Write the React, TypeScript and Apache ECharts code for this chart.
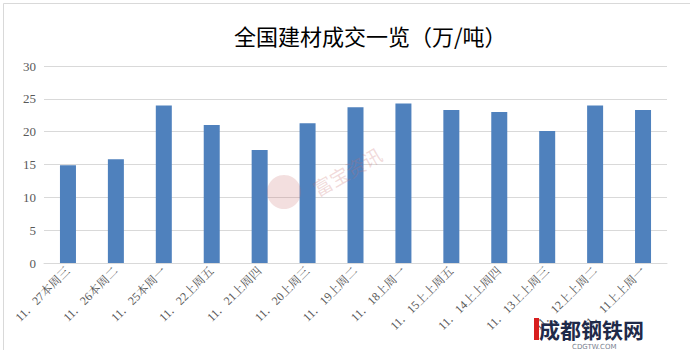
import React, { useEffect, useRef } from "react";
import * as echarts from "echarts";

const categories = [
  "11．27本周三", "11．26本周二", "11．25本周一", "11．22上周五", "11．21上周四",
  "11．20上周三", "11．19上周二", "11．18上周一", "11．15上上周五", "11．14上上周四",
  "11．13上上周三", "11．12上上周二", "11．11上上周一",
];
const values = [14.9, 15.8, 24.0, 21.0, 17.2, 21.3, 23.7, 24.3, 23.3, 23.0, 20.1, 24.0, 23.3];
const yTicks = [0, 5, 10, 15, 20, 25, 30];

export default function App() {
  const ref = useRef<HTMLDivElement>(null);
  useEffect(() => {
    if (!ref.current) return;
    const chart = echarts.init(ref.current, null, { renderer: "svg" });
    const labelFont = "'Liberation Serif', 'Noto Serif CJK SC', 'Noto Sans CJK SC', serif";
    chart.setOption({
      animation: false,
      backgroundColor: "#ffffff",
      title: {
        text: "全国建材成交一览（万/吨）",
        left: 229,
        top: 19,
        textStyle: {
          fontFamily: "'Noto Sans CJK SC', sans-serif",
          fontSize: 22,
          fontWeight: "normal",
          color: "#000000",
        },
      },
      grid: { left: 44, right: 23, top: 66, bottom: 87, containLabel: false },
      xAxis: {
        type: "category",
        data: categories,
        axisLine: { lineStyle: { color: "#d9d9d9" } },
        axisTick: { show: false },
        axisLabel: {
          rotate: 45,
          interval: 0,
          color: "#595959",
          fontSize: 12,
          fontFamily: labelFont,
          margin: 6,
        },
      },
      yAxis: {
        type: "value",
        min: yTicks[0],
        max: yTicks[yTicks.length - 1],
        interval: 5,
        axisLine: { show: false },
        axisTick: { show: false },
        splitLine: { lineStyle: { color: "#d9d9d9" } },
        axisLabel: {
          color: "#595959",
          fontSize: 13,
          fontFamily: labelFont,
          margin: 8,
        },
      },
      series: [
        {
          type: "bar",
          data: values,
          barWidth: 16,
          itemStyle: { color: "#4f81bd" },
        },
      ],
      graphic: [
        {
          type: "rect",
          left: 1,
          top: 1,
          shape: { width: 687, height: 347 },
          style: { fill: "none", stroke: "#d9d9d9", lineWidth: 1 },
          silent: true,
        },
        {
          type: "circle",
          shape: { cx: 284, cy: 192, r: 17 },
          style: { fill: "rgba(200,110,110,0.22)" },
          silent: true,
          z: 100,
        },
        {
          type: "text",
          x: 314,
          y: 190,
          rotation: Math.PI / 6,
          style: {
            text: "富宝资讯",
            fontSize: 19,
            fontFamily: "'Noto Sans CJK SC', sans-serif",
            fill: "rgba(200,110,110,0.25)",
            verticalAlign: "middle",
          },
          silent: true,
          z: 100,
        },
        {
          type: "rect",
          shape: { x: 534, y: 318, width: 5, height: 22 },
          style: { fill: "#d81e1e" },
          silent: true,
          z: 100,
        },
        {
          type: "text",
          x: 539,
          y: 318,
          style: {
            text: "成都钢铁网",
            fontSize: 21,
            fontWeight: "bold",
            fontFamily: "'Noto Sans CJK SC', sans-serif",
            fill: "#1f2a4a",
            verticalAlign: "top",
          },
          silent: true,
          z: 100,
        },
        {
          type: "text",
          x: 572,
          y: 343,
          style: {
            text: "CDGTW.COM",
            fontSize: 7,
            fontFamily: "'DejaVu Sans', sans-serif",
            fill: "#7a7f90",
            verticalAlign: "top",
          },
          silent: true,
          z: 100,
        },
      ],
    });
    return () => chart.dispose();
  }, []);
  return (
    <div
      ref={ref}
      style={{ position: "fixed", left: 0, top: 0, width: 690, height: 350 }}
    />
  );
}
